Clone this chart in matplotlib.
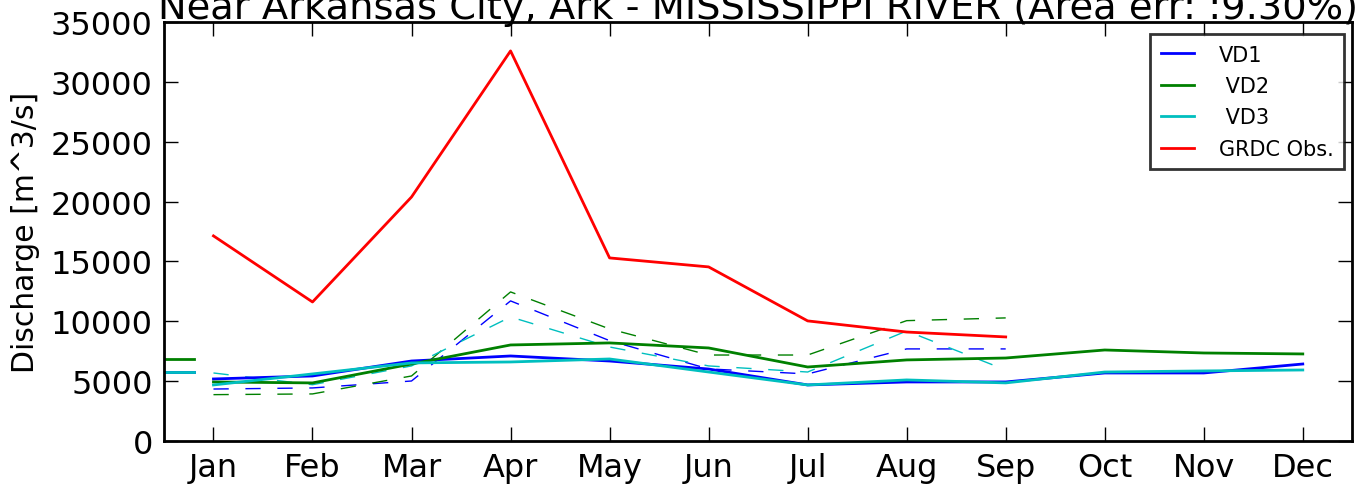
import numpy as np
import matplotlib
matplotlib.use('Agg')
import matplotlib.pyplot as plt

months = ['Jan', 'Feb', 'Mar', 'Apr', 'May', 'Jun', 'Jul', 'Aug', 'Sep', 'Oct', 'Nov', 'Dec']
x = np.arange(1, 13)

# simulated monthly means (solid), all 12 months
vd1 = [5180, 5430, 6680, 7100, 6680, 6010, 4680, 4930, 4930, 5680, 5680, 6430]
vd2 = [4930, 4850, 6430, 8020, 8190, 7770, 6180, 6770, 6930, 7600, 7350, 7270]
vd3 = [4680, 5600, 6520, 6600, 6850, 5760, 4680, 5100, 4850, 5760, 5850, 5930]

# simulated values over the observation period (dashed), Jan-Sep
vd1_obs = [4340, 4430, 5010, 11700, 8380, 6020, 5600, 7690, 7690]
vd2_obs = [3870, 3930, 5430, 12450, 9360, 7180, 7180, 10050, 10280]
vd3_obs = [5680, 4700, 6270, 10360, 7850, 6270, 5760, 9190, 5930]

# GRDC observed, Jan-Sep
grdc = [17130, 11610, 20380, 32580, 15290, 14540, 10030, 9100, 8690]

# annual means drawn at the left edge
annual = {'b': 5780, 'g': 6860, 'c': 5720}

fig = plt.figure(figsize=(13.55, 4.85), dpi=100)
ax = fig.add_axes([0.121, 0.0887, 0.877, 0.864])

xo = x[:len(grdc)]
ax.plot(xo, vd1_obs, color='b', lw=1, dashes=(11, 12))
ax.plot(xo, vd2_obs, color='g', lw=1, dashes=(11, 12))
ax.plot(xo, vd3_obs, color='c', lw=1, dashes=(11, 12))

ax.plot(x, vd1, color='b', lw=2, label='VD1')
ax.plot(x, vd2, color='g', lw=2, label=' VD2')
ax.plot(x, vd3, color='c', lw=2, label=' VD3')
ax.plot(xo, grdc, color='r', lw=2, label='GRDC Obs.')

for c, v in annual.items():
    ax.plot([0, 0.8], [v, v], color=c, lw=2)

ax.set_xlim(0.5, 12.5)
ax.set_ylim(0, 35000)
ax.set_xticks(x)
ax.set_xticklabels(months)
ax.set_yticks(np.arange(0, 35001, 5000))
ax.tick_params(direction='in', top=True, right=True, length=10, width=1,
               labelsize=23, pad=8)
for s in ax.spines.values():
    s.set_linewidth(2)

ax.set_ylabel('Discharge [m^3/s]', fontsize=21.5, labelpad=8)
ax.set_title('Near Arkansas City, Ark - MISSISSIPPI RIVER (Area err: :9.30%)',
             fontsize=27.6, pad=3)

leg = ax.legend(loc='upper right', fontsize=15, handlelength=1.6,
                handletextpad=1.2, labelspacing=0.55, borderpad=0.5,
                borderaxespad=0, fancybox=False, bbox_to_anchor=(0.9933, 0.971))
leg.get_frame().set_edgecolor('k')
leg.get_frame().set_linewidth(2)

fig.savefig('out.png', dpi=100)
